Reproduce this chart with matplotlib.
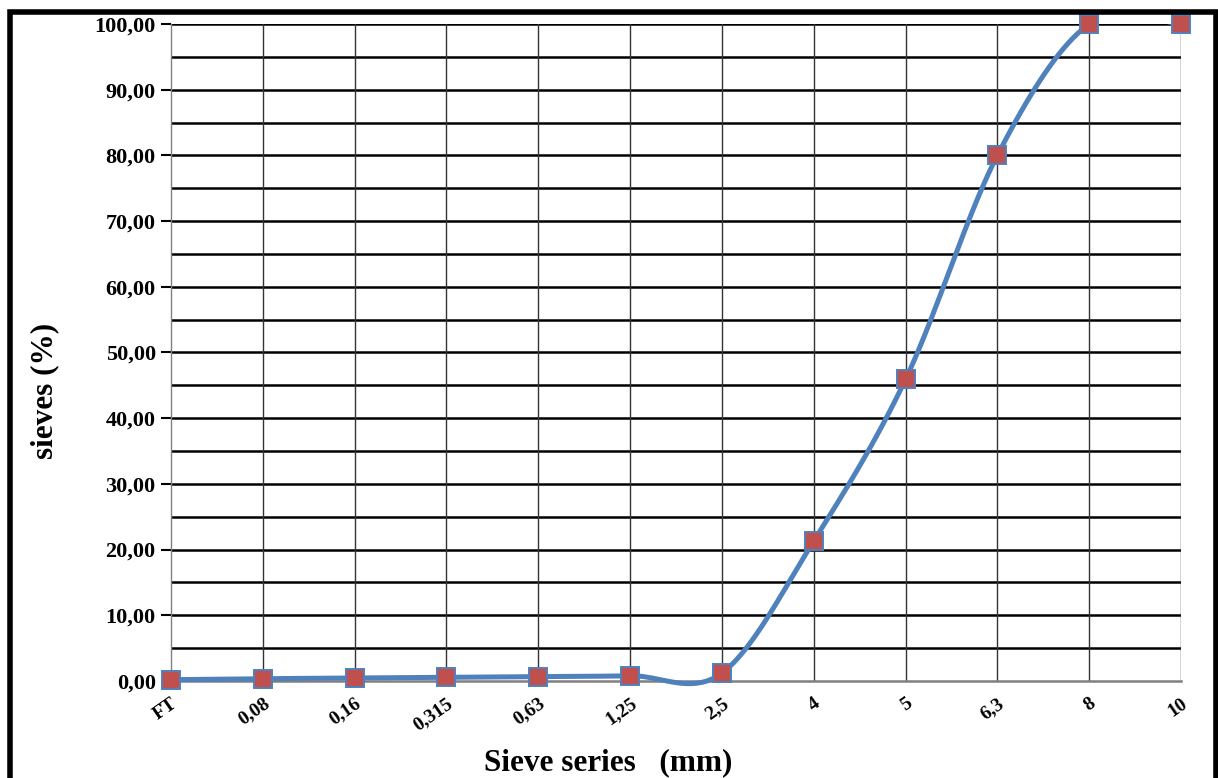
import matplotlib
matplotlib.use("Agg")
import matplotlib.pyplot as plt
import numpy as np
from matplotlib.patches import Rectangle

# sieve openings (category axis) and cumulative passing (%)
sieves = ["FT", "0,08", "0,16", "0,315", "0,63", "1,25", "2,5", "4", "5", "6,3", "8", "10"]
passing = [0.2, 0.35, 0.45, 0.55, 0.65, 0.8, 1.2, 21.3, 45.9, 80.0, 100.0, 100.0]
y_ticks = [0, 10, 20, 30, 40, 50, 60, 70, 80, 90, 100]

LINE_COLOR = "#4F81BD"
MARKER_COLOR = "#C0504D"

plt.rcParams["font.family"] = ["Liberation Serif", "DejaVu Serif"]
plt.rcParams["font.weight"] = "bold"


def excel_smooth(x, y, n=40):
    """Bezier smoothing similar to the Excel 'smoothed line' option."""
    x = np.asarray(x, float)
    y = np.asarray(y, float)
    px = np.concatenate([[x[0]], x, [x[-1]]])
    py = np.concatenate([[y[0]], y, [y[-1]]])
    xs, ys = [], []
    t = np.linspace(0, 1, n)
    for i in range(1, len(px) - 2):
        p0 = np.array([px[i], py[i]])
        p3 = np.array([px[i + 1], py[i + 1]])
        c1 = p0 + (np.array([px[i + 1], py[i + 1]]) - np.array([px[i - 1], py[i - 1]])) / 6
        c2 = p3 - (np.array([px[i + 2], py[i + 2]]) - np.array([px[i], py[i]])) / 6
        pts = ((1 - t) ** 3)[:, None] * p0 + (3 * (1 - t) ** 2 * t)[:, None] * c1 \
            + (3 * (1 - t) * t ** 2)[:, None] * c2 + (t ** 3)[:, None] * p3
        xs.extend(pts[:, 0])
        ys.extend(pts[:, 1])
    return np.array(xs), np.array(ys)


fig = plt.figure(figsize=(12.18, 7.78), dpi=100)
ax = fig.add_axes([0.1404, 0.1247, 0.8292, 0.8445])

idx = np.arange(len(sieves))
sx, sy = excel_smooth(idx, passing)
line, = ax.plot(sx, sy, color=LINE_COLOR, lw=3.6, solid_capstyle="round", zorder=3)
line.set_clip_path(Rectangle((0, -0.1), 1, 1.1, transform=ax.transAxes))
ax.plot(idx, passing, ls="none", marker="s", ms=13, mfc=MARKER_COLOR,
        mec=LINE_COLOR, mew=1.4, zorder=4, clip_on=False)

ax.set_xlim(0, len(sieves) - 1)
ax.set_ylim(0, 100)

# gridlines: every 5 % horizontally, every sieve vertically
for v in np.arange(5, 101, 5):
    ax.axhline(v, color="black", lw=1.8, zorder=1)
for i in idx[1:]:
    ax.axvline(i, color="#333333", lw=1.0, zorder=1)

ax.set_yticks(y_ticks)
ax.set_yticklabels([("%.2f" % v).replace(".", ",") for v in y_ticks])
ax.set_xticks(idx)
ax.set_xticklabels(sieves)
plt.setp(ax.get_yticklabels(), fontsize=16, fontweight="bold")
plt.setp(ax.get_xticklabels(), fontsize=14, fontweight="bold", rotation=35,
         ha="right", rotation_mode="anchor")
ax.tick_params(axis="y", length=7, width=1.5, color="black", pad=4)
ax.tick_params(axis="x", length=0, pad=10)

for side in ["top", "right"]:
    ax.spines[side].set_visible(False)
ax.spines["left"].set_color("#808080")
ax.spines["left"].set_linewidth(1.0)
ax.spines["bottom"].set_color("#808080")
ax.spines["bottom"].set_linewidth(1.8)

fig.text(0.499, 0.02, "Sieve series   (mm)", fontsize=22.5, fontweight="bold",
         ha="center", va="center")
fig.text(0.037, 0.497, "sieves (%)", fontsize=22.5, fontweight="bold",
         ha="center", va="center", rotation=90)

# thick outer frame (bottom edge runs off the picture)
fig.patches.append(Rectangle((0.008, -0.05), 0.99, 1.035, transform=fig.transFigure,
                             fill=False, ec="black", lw=4, clip_on=False))

fig.savefig("out.png", dpi=100)
